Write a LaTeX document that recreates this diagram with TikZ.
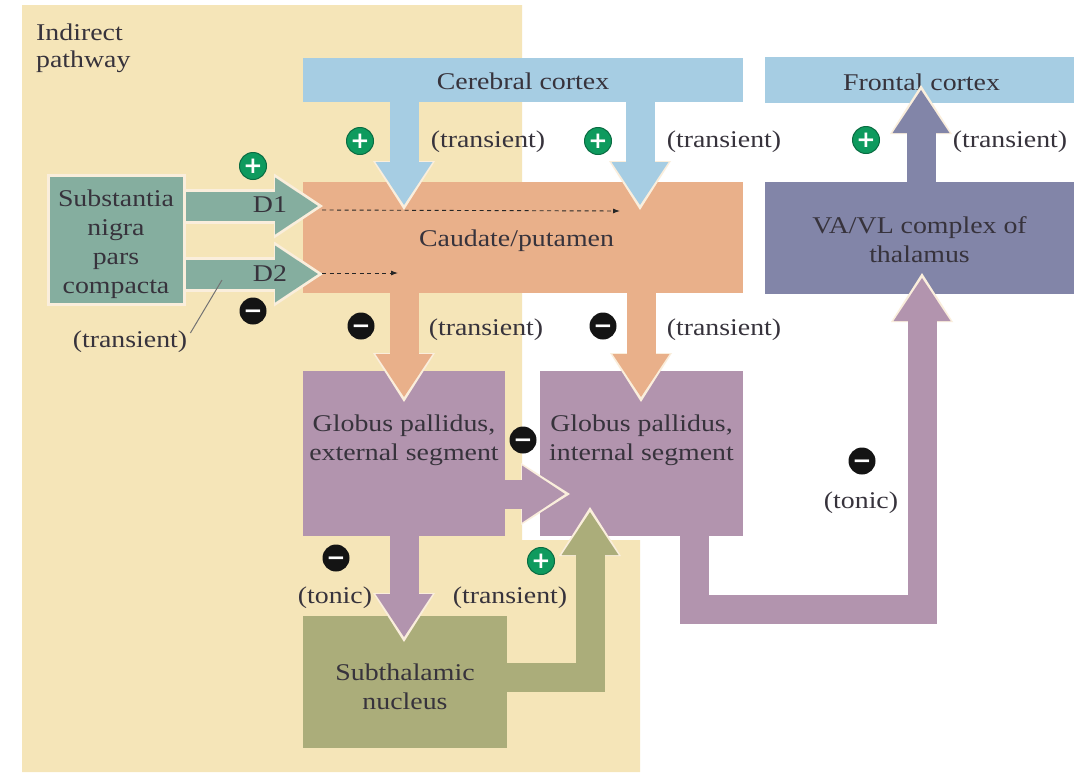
\documentclass[tikz,border=0pt]{standalone}
\usepackage{fontspec}
\setmainfont[FakeStretch=1.16]{Liberation Serif}
\newfontfamily\signfont{DejaVu Sans Bold}
\usetikzlibrary{arrows.meta,calc}
\pgfdeclarelayer{front}
\pgfsetlayers{main,front}
\definecolor{beige}{HTML}{F5E5B8}
\definecolor{cblue}{HTML}{A6CDE3}
\definecolor{corange}{HTML}{E9B08A}
\definecolor{cgreen}{HTML}{85AE9F}
\definecolor{cpurple}{HTML}{B294AE}
\definecolor{colive}{HTML}{ABAD7A}
\definecolor{cslate}{HTML}{8285A8}
\definecolor{halo}{HTML}{FAEEDC}
\definecolor{signgreen}{HTML}{0E9A5E}
\definecolor{ink}{HTML}{37333C}
\newcommand{\lowr}[2]{\raisebox{-#1pt}[\height][\depth]{#2}}
\tikzset{
  region/.style={rectangle,inner sep=0pt,align=center,text=ink,font=\fontsize{24}{29}\selectfont},
  note/.style={inner sep=0pt,align=center,text=ink,font=\fontsize{24}{28}\selectfont},
  sign/.style={circle,minimum size=27pt,inner sep=0pt,text=white,font=\signfont\fontsize{23}{23}\selectfont},
  plussign/.style={sign,fill=signgreen,draw=signgreen!70!black,line width=1pt},
  minussign/.style={sign,fill=black!92},
  flow/.style={line width=29pt,line join=miter,line cap=butt,
    -{Triangle[length=43pt,width=57pt,line width=0pt]},draw=#1},
  ringed/.style={preaction={draw=halo,line width=29pt,shorten >=-5pt,
    -{Triangle[length=49pt,width=62pt,line width=0pt]}}},
  sheathed/.style={preaction={draw=halo,line width=35pt,shorten >=-5pt,
    -{Triangle[length=49pt,width=65pt,line width=0pt]}}},
  dashflow/.style={black!85,line width=0.9pt,dash pattern=on 4pt off 3.5pt,-{Latex[length=7pt,width=5pt]}},
  leader/.style={draw=black!55,line width=1pt},
}
\begin{document}
\begin{tikzpicture}[x=1pt,y=-1pt]
\useasboundingbox (0,0) rectangle (1079,772);
\fill[white] (0,0) rectangle (1079,772);
\fill[beige] (22,5) -- (522,5) -- (522,540) -- (640,540) -- (640,772) -- (22,772) -- cycle;
\node[note,anchor=north west,align=left] (indirect) at (36,24) {Indirect\\[-1pt]pathway};

% regions
\node[region,fill=cblue,minimum width=440pt,minimum height=44pt] (cortex) at (523,80) {\lowr{1}{Cerebral cortex}};
\node[region,fill=cblue,minimum width=309pt,minimum height=46pt] (frontal) at (919.5,80) {\hspace*{4pt}\lowr{2}{Frontal cortex}};
\node[region,fill=corange,minimum width=440pt,minimum height=111pt] (caudate) at (523,237.5) {\hspace*{-13pt}\lowr{3}{Caudate/putamen}};
\node[region,fill=cslate,minimum width=309pt,minimum height=112pt] (thalamus) at (919.5,238) {\lowr{2}{VA/VL complex of}\\\lowr{2}{thalamus}};
\node[region,fill=cpurple,minimum width=202pt,minimum height=165pt] (gpe) at (404,453.5) {Globus pallidus,\\external segment\\[3pt]};
\node[region,fill=cpurple,minimum width=203pt,minimum height=165pt] (gpi) at (641.5,453.5) {Globus pallidus,\\internal segment\\[3pt]};
\node[region,fill=colive,minimum width=204pt,minimum height=132pt] (stn) at (405,682) {\\[-2pt]Subthalamic\\nucleus};
\begin{pgfonlayer}{front}
\node[region,fill=cgreen,draw=halo,line width=3pt,minimum width=136pt,minimum height=129pt] (snpc) at (116,240) {\lowr{4.5}{Substantia}\\\lowr{4.5}{nigra}\\\lowr{4.5}{pars}\\\lowr{4.5}{compacta}};
\end{pgfonlayer}

% tips and bends of the thick arrows
\coordinate (tipCa) at (404,205);
\coordinate (tipCb) at (640,205);
\coordinate (tipF) at (921,90);
\coordinate (tipGe) at (404,397);
\coordinate (tipGi) at (641,397);
\coordinate (tipDa) at (318,206);
\coordinate (tipDb) at (318,274);
\coordinate (tipP) at (565,494);
\coordinate (tipS) at (404,637);
\coordinate (tipO) at (590,512);
\coordinate (tipT) at (922,278);
\coordinate (bendO) at (590,677);
\coordinate (bendTa) at (694,609);
\coordinate (bendTb) at (922,609);

% thick arrows
\draw[flow=cblue,ringed] (cortex.south -| tipCa) -- (tipCa);
\draw[flow=cblue,ringed] (cortex.south -| tipCb) -- (tipCb);
\draw[flow=cslate,ringed] (thalamus.north -| tipF) -- (tipF);
\draw[flow=corange,ringed] (caudate.south -| tipGe) -- (tipGe);
\draw[flow=corange,ringed] (caudate.south -| tipGi) -- (tipGi);
\draw[flow=cpurple,ringed] (gpe.south -| tipS) -- (tipS);
\draw[flow=cpurple,ringed] (gpe.east |- tipP) -- (tipP);
\draw[flow=colive,ringed] (stn.east |- bendO) -- (bendO) -- (tipO);
\draw[flow=cpurple,ringed] (gpi.south -| bendTa) -- (bendTa) -- (bendTb) -- (tipT);
\draw[flow=cgreen,sheathed] (snpc.east |- tipDa) -- (tipDa);
\draw[flow=cgreen,sheathed] (snpc.east |- tipDb) -- (tipDb);

\node[note] (dlabelA) at (270,205) {D1};
\node[note] (dlabelB) at (270,274) {D2};

% dashed arrows inside the caudate/putamen
\coordinate (dashA) at (322,210);
\coordinate (dashAend) at (620,211);
\coordinate (dashB) at (322,273);
\coordinate (dashBend) at (398,273);
\draw[dashflow] (dashA) -- (dashAend);
\draw[dashflow] (dashB) -- (dashBend);

% labels
\node[note] (tA) at (488,142) {(transient)};
\node[note] (tB) at (724,142) {(transient)};
\node[note] (tC) at (1010,142) {(transient)};
\node[note] (tD) at (486,330) {(transient)};
\node[note] (tE) at (724,330) {(transient)};
\node[note] (tF) at (130,342) {(transient)};
\node[note] (tG) at (510,598) {(transient)};
\node[note] (tonicA) at (335,598) {(tonic)};
\node[note] (tonicB) at (861,503) {(tonic)};
\coordinate (leaderTop) at (222,280);
\draw[leader] (leaderTop) -- ($(tF.east)+(3,-9)$);

% signs
\node[plussign] (pA) at (360,141) {+};
\node[plussign] (pB) at (598,141) {+};
\node[plussign] (pC) at (866,140) {+};
\node[plussign] (pD) at (253,166) {+};
\node[plussign] (pE) at (541,561) {+};
\node[minussign] (mA) at (253,311) {\lowr{3}{−}};
\node[minussign] (mB) at (361,326) {\lowr{3}{−}};
\node[minussign] (mC) at (603,326) {\lowr{3}{−}};
\node[minussign] (mD) at (523,440) {\lowr{3}{−}};
\node[minussign] (mE) at (336,558) {\lowr{3}{−}};
\node[minussign] (mF) at (862,461) {\lowr{3}{−}};
\end{tikzpicture}
\end{document}
